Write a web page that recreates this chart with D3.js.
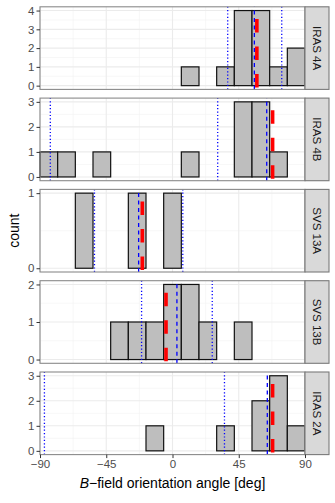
<!DOCTYPE html>
<html>
<head>
<meta charset="utf-8">
<script src="https://cdn.jsdelivr.net/npm/d3@7"></script>
<style>
  body { margin: 0; background: #fff; }
  svg { display: block; font-family: "Liberation Sans", Arial, sans-serif; }
</style>
</head>
<body>
<div id="chart"></div>
<script>
// bins are 12 deg wide, starting at -90
var binStarts = [-90, -78, -66, -54, -42, -30, -18, -6, 6, 18, 30, 42, 54, 66, 78];
var binWidth = 12;

var sources = ['IRAS 4A', 'IRAS 4B', 'SVS 13A', 'SVS 13B', 'IRAS 2A'];

var countsIRAS4A = [0, 0, 0, 0, 0, 0, 0, 0, 1, 0, 1, 4, 4, 1, 2];
var countsIRAS4B = [1, 1, 0, 1, 0, 0, 0, 0, 1, 0, 0, 3, 3, 1, 0];
var countsSVS13A = [0, 0, 1, 0, 0, 1, 0, 1, 0, 0, 0, 0, 0, 0, 0];
var countsSVS13B = [0, 0, 0, 0, 1, 1, 1, 2, 2, 1, 0, 1, 0, 0, 0];
var countsIRAS2A = [0, 0, 0, 0, 0, 0, 1, 0, 0, 0, 1, 0, 2, 3, 1];

// blue dotted (range), blue dashed, red dashed
var dottedLines = [[37.5, 74.2], [-83, 30.7], [-53, 7], [-21, 27], [-87, 35.3]];
var dashedBlue = [55.6, 64, -23, 3, 64.4];
var dashedRed = [57.3, 68, -20.5, -4.4, 68];

var yTicks = [[0, 1, 2, 3, 4], [0, 1, 2, 3], [0, 1], [0, 1, 2], [0, 1, 2, 3]];
var xTicks = [-90, -45, 0, 45, 90];
var xMinor = [-67.5, -22.5, 22.5, 67.5];

var allCounts = [countsIRAS4A, countsIRAS4B, countsSVS13A, countsSVS13B, countsIRAS2A];

var W = 335, H = 503;
var left = 40, right = 305;
var top0 = 6.8, pitch = 91.3, ph = 82.6;
var stripW = 24;

var svg = d3.select('#chart').append('svg')
    .attr('width', W)
    .attr('height', H);

var x = d3.scaleLinear().domain([-90, 90]).range([left, right]);

sources.forEach(function (name, i) {
    var counts = allCounts[i];
    var maxC = d3.max(yTicks[i]);
    var top = top0 + i * pitch;
    var y = d3.scaleLinear()
        .domain([-0.05 * maxC, 1.05 * maxC])
        .range([top + ph, top]);

    var g = svg.append('g');

    // background
    g.append('rect')
        .attr('x', left).attr('y', top)
        .attr('width', right - left).attr('height', ph)
        .attr('fill', '#fff');

    // minor grid
    var yMinor = [];
    for (var k = 0; k < yTicks[i].length - 1; k++) yMinor.push(yTicks[i][k] + 0.5);
    g.selectAll('.vminor').data(xMinor).enter().append('line')
        .attr('x1', function (d) { return x(d); })
        .attr('x2', function (d) { return x(d); })
        .attr('y1', top).attr('y2', top + ph)
        .attr('stroke', '#f2f2f2').attr('stroke-width', 0.6);
    g.selectAll('.hminor').data(yMinor).enter().append('line')
        .attr('x1', left).attr('x2', right)
        .attr('y1', function (d) { return y(d); })
        .attr('y2', function (d) { return y(d); })
        .attr('stroke', '#f2f2f2').attr('stroke-width', 0.6);

    // major grid
    g.selectAll('.vmajor').data(xTicks).enter().append('line')
        .attr('x1', function (d) { return x(d); })
        .attr('x2', function (d) { return x(d); })
        .attr('y1', top).attr('y2', top + ph)
        .attr('stroke', '#ebebeb').attr('stroke-width', 1.1);
    g.selectAll('.hmajor').data(yTicks[i]).enter().append('line')
        .attr('x1', left).attr('x2', right)
        .attr('y1', function (d) { return y(d); })
        .attr('y2', function (d) { return y(d); })
        .attr('stroke', '#ebebeb').attr('stroke-width', 1.1);

    // histogram bars (zero bins show as flat line)
    g.selectAll('.bar').data(counts).enter().append('rect')
        .attr('x', function (d, j) { return x(binStarts[j]); })
        .attr('width', function (d, j) { return x(binStarts[j] + binWidth) - x(binStarts[j]); })
        .attr('y', function (d) { return y(d); })
        .attr('height', function (d) { return y(0) - y(d); })
        .attr('fill', '#bebebe')
        .attr('stroke', '#111')
        .attr('stroke-width', 1.2);

    // lines
    g.selectAll('.dot').data(dottedLines[i]).enter().append('line')
        .attr('x1', function (d) { return x(d); })
        .attr('x2', function (d) { return x(d); })
        .attr('y1', top + ph).attr('y2', top)
        .attr('stroke', '#0000ff').attr('stroke-width', 1.3)
        .attr('stroke-dasharray', '1.2,2.2');

    g.append('line')
        .attr('x1', x(dashedBlue[i])).attr('x2', x(dashedBlue[i]))
        .attr('y1', top + ph).attr('y2', top)
        .attr('stroke', '#0000ff').attr('stroke-width', 1.3)
        .attr('stroke-dasharray', '4,3.5');

    g.append('line')
        .attr('x1', x(dashedRed[i])).attr('x2', x(dashedRed[i]))
        .attr('y1', top + ph - 2).attr('y2', top)
        .attr('stroke', '#ff0000').attr('stroke-width', 3.6)
        .attr('stroke-dasharray', '13.5,14');

    // panel border
    g.append('rect')
        .attr('x', left).attr('y', top)
        .attr('width', right - left).attr('height', ph)
        .attr('fill', 'none')
        .attr('stroke', '#8a8a8a').attr('stroke-width', 1.1);

    // y axis
    var yAxis = g.append('g')
        .attr('transform', 'translate(' + left + ',0)')
        .call(d3.axisLeft(y).tickValues(yTicks[i]).tickFormat(d3.format('d'))
            .tickSize(3.5).tickPadding(2));
    yAxis.select('.domain').remove();
    yAxis.selectAll('.tick line').attr('stroke', '#333').attr('stroke-width', 1);
    yAxis.selectAll('.tick text')
        .attr('fill', '#4d4d4d')
        .style('font-size', '11.5px');

    // strip
    g.append('rect')
        .attr('x', right).attr('y', top)
        .attr('width', stripW).attr('height', ph)
        .attr('fill', '#d9d9d9')
        .attr('stroke', '#7a7a7a').attr('stroke-width', 1.1);
    g.append('text')
        .attr('transform', 'translate(' + (right + stripW / 2) + ',' + (top + ph / 2) + ') rotate(90)')
        .attr('text-anchor', 'middle')
        .attr('dy', '0.35em')
        .attr('fill', '#1a1a1a')
        .style('font-size', '11.5px')
        .text(name);

    if (i === sources.length - 1) {
        var xAxis = g.append('g')
            .attr('transform', 'translate(0,' + (top + ph) + ')')
            .call(d3.axisBottom(x).tickValues(xTicks).tickSize(3.5).tickPadding(2)
                .tickFormat(function (d) { return d < 0 ? '\u2212' + Math.abs(d) : d; }));
        xAxis.select('.domain').remove();
        xAxis.selectAll('.tick line').attr('stroke', '#333').attr('stroke-width', 1);
        xAxis.selectAll('.tick text')
            .attr('fill', '#4d4d4d')
            .style('font-size', '11.5px');
    }
});

// axis titles
var xTitle = svg.append('text')
    .attr('x', (left + right) / 2)
    .attr('y', 488)
    .attr('text-anchor', 'middle')
    .attr('fill', '#000')
    .style('font-size', '14px');
xTitle.append('tspan').style('font-style', 'italic').text('B');
xTitle.append('tspan').text('\u2212field orientation angle [deg]');

svg.append('text')
    .attr('transform', 'translate(19,' + (top0 + (4 * pitch + ph) / 2) + ') rotate(-90)')
    .attr('text-anchor', 'middle')
    .attr('fill', '#000')
    .style('font-size', '14px')
    .text('count');
</script>
</body>
</html>
